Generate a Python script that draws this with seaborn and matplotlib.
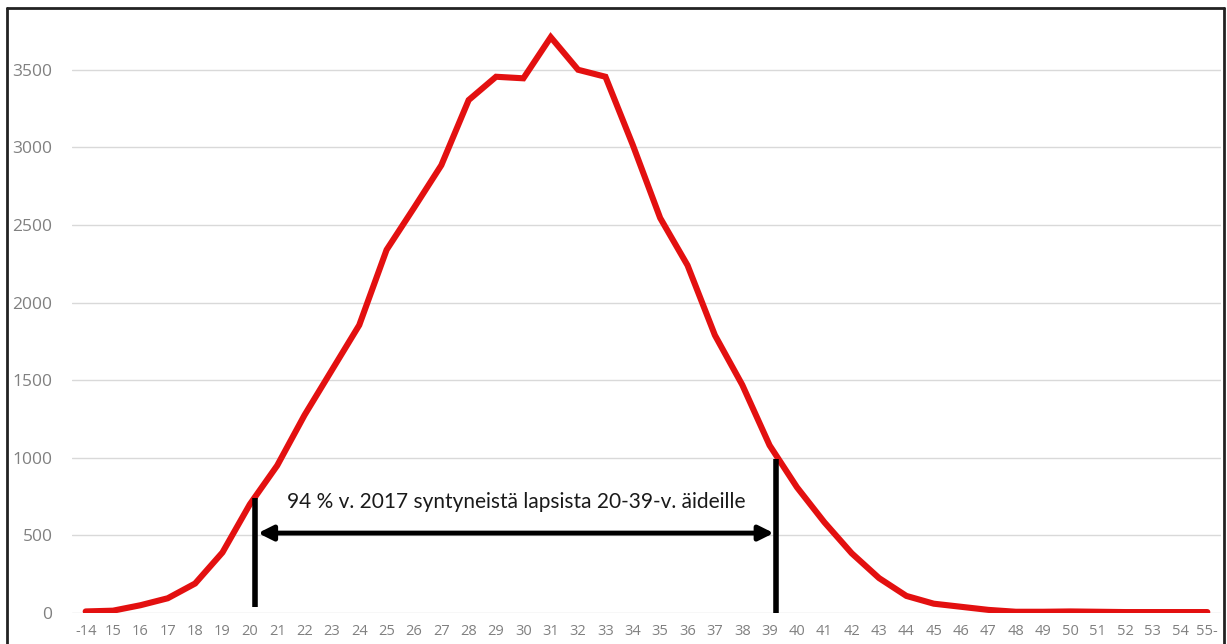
import numpy as np
import pandas as pd
import matplotlib
matplotlib.use("Agg")
import matplotlib.pyplot as plt
from matplotlib.lines import Line2D
import seaborn as sns

# Mother's age groups and births in 2017
ages = ["-14"] + [str(a) for a in range(15, 55)] + ["55-"]
births = [10, 15, 50, 95, 190, 390, 700, 950, 1275, 1565, 1855, 2340, 2610, 2885,
          3305, 3455, 3445, 3710, 3500, 3455, 3015, 2545, 2240, 1790, 1470, 1080,
          810, 585, 385, 225, 110, 60, 40, 20, 8, 8, 10, 8, 6, 6, 6, 6]
y_ticks = [0, 500, 1000, 1500, 2000, 2500, 3000, 3500]
note = "94 % v. 2017 syntyneistä lapsista 20-39-v. äideille"

df = pd.DataFrame({"pos": np.arange(len(ages)), "births": births})
pos_of = {a: i for i, a in enumerate(ages)}

sns.set_theme(style="white")
plt.rcParams["font.family"] = ["Open Sans", "DejaVu Sans"]

W, H = 1227, 644
fig = plt.figure(figsize=(W / 100, H / 100), dpi=100)
ax = fig.add_axes([72 / W, 1 - 613 / H, 1149 / W, 605 / H])

for yt in y_ticks:
    ax.axhline(yt, color="#d9d9d9", lw=1, zorder=0)

sns.lineplot(data=df, x="pos", y="births", ax=ax, color="#e31010", lw=4.4,
             solid_joinstyle="miter", zorder=3)

ax.set_xlim(-0.5, len(ages) - 0.5)
ax.set_ylim(0, 3898)
ax.set_xticks(np.arange(len(ages)))
ax.set_xticklabels(ages)
ax.set_yticks(y_ticks)
ax.set_yticklabels([str(t) for t in y_ticks])
ax.tick_params(axis="both", length=0, colors="#808080")
ax.tick_params(axis="x", pad=8, labelsize=10.5)
ax.tick_params(axis="y", pad=14, labelsize=12.5)
ax.set_xlabel("")
ax.set_ylabel("")
for s in ax.spines.values():
    s.set_visible(False)

# Range markers for ages 20 to 39
x20 = pos_of["20"] + 0.2
x39 = pos_of["39"] + 0.25
ax.plot([x20, x20], [40, 740], color="black", lw=4, solid_capstyle="butt", zorder=4)
ax.plot([x39, x39], [-10, 990], color="black", lw=4, solid_capstyle="butt", zorder=4)
ax.annotate("", xy=(x20 + 0.1, 515), xytext=(x39 - 0.1, 515),
            arrowprops=dict(arrowstyle="<|-|>", color="black", lw=3.5,
                            mutation_scale=22, shrinkA=0, shrinkB=0), zorder=4)
ax.text((x20 + x39) / 2, 712, note, ha="center", va="center", fontsize=15,
        family=["Lato", "DejaVu Sans"], color="#1a1a1a", zorder=5)

# Chart frame
for xs, ys in [([7 / W, 7 / W], [0, 1 - 8 / H]),
               ([7 / W, 1224 / W], [1 - 8 / H, 1 - 8 / H]),
               ([1224 / W, 1224 / W], [0, 1 - 8 / H])]:
    fig.add_artist(Line2D(xs, ys, transform=fig.transFigure, color="#222222", lw=2))

fig.savefig("out.png", dpi=100)
